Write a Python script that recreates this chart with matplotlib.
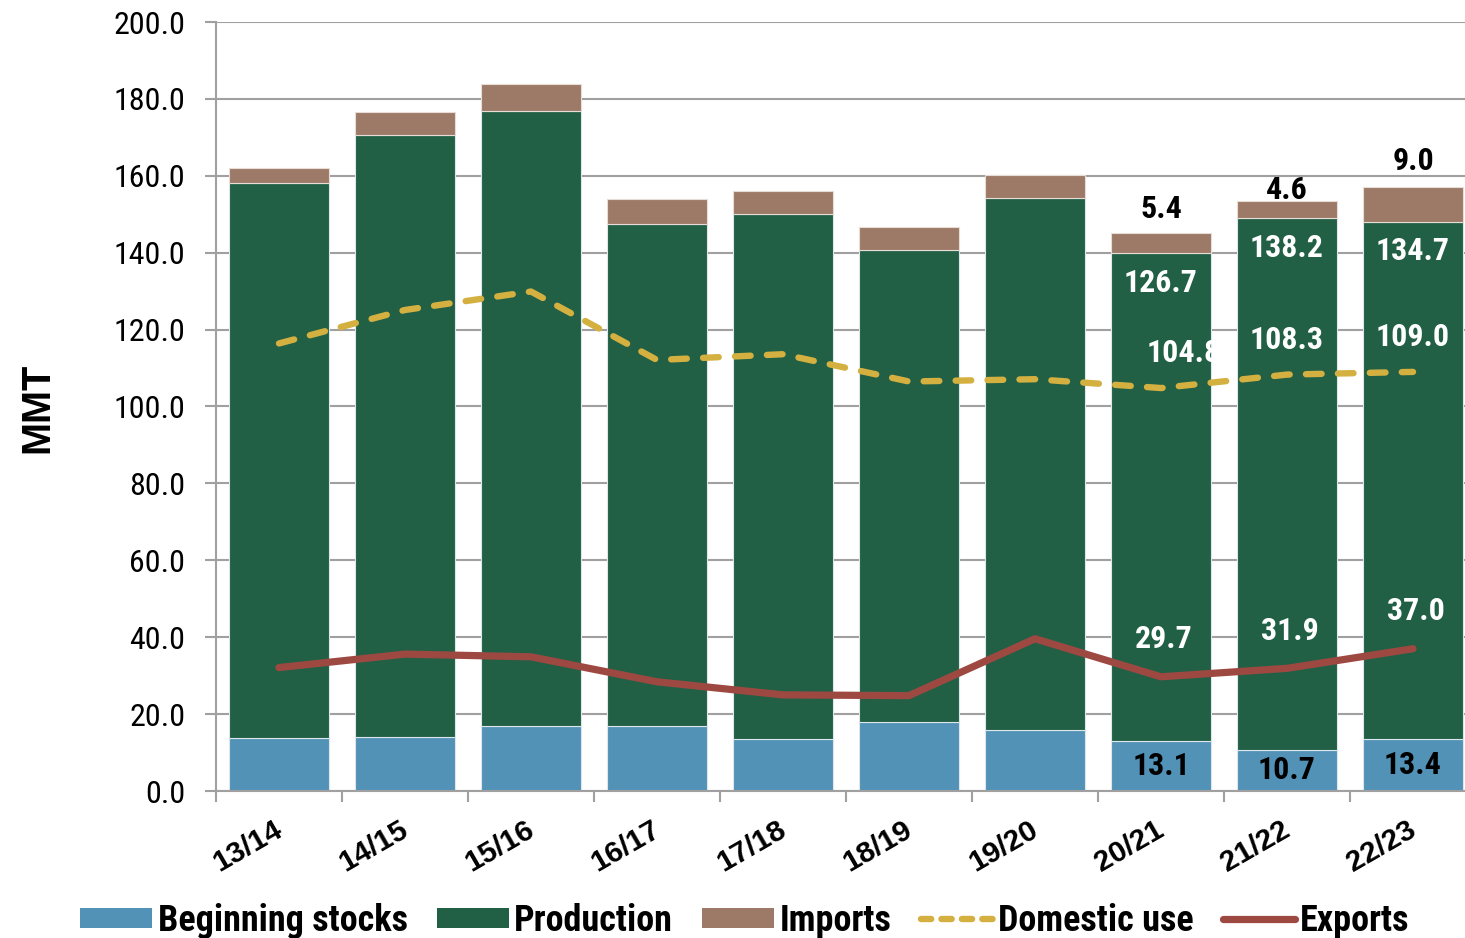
import matplotlib
matplotlib.use("Agg")
import matplotlib.pyplot as plt
from matplotlib import font_manager
from matplotlib.lines import Line2D
from matplotlib.patches import Patch
import numpy as np

years = ["13/14", "14/15", "15/16", "16/17", "17/18", "18/19", "19/20", "20/21", "21/22", "22/23"]
beginning_stocks = [13.9, 14.1, 16.8, 16.8, 13.6, 17.9, 15.9, 13.1, 10.7, 13.4]
production = [144.3, 156.6, 160.1, 130.7, 136.4, 122.9, 138.4, 126.7, 138.2, 134.7]
imports = [3.9, 6.0, 7.0, 6.4, 6.1, 5.8, 5.8, 5.4, 4.6, 9.0]
domestic_use = [116.4, 125.1, 129.9, 112.1, 113.6, 106.5, 107.1, 104.8, 108.3, 109.0]
exports = [32.1, 35.6, 34.9, 28.4, 25.0, 24.8, 39.6, 29.7, 31.9, 37.0]

labelled = [7, 8, 9]  # only last three seasons carry data labels
imp_lift = {7: 17, 8: 8, 9: 19}  # label offset above the bar, points
dom_shift = {7: 16, 8: 0, 9: 0}

c_stocks = "#5292B7"
c_prod = "#216045"
c_imp = "#9D7A67"
c_dom = "#D4B040"
c_exp = "#9E4842"
c_grid = "#A0A0A0"

installed = {f.name for f in font_manager.fontManager.ttflist}
narrow = "DejaVu Sans"
for name in ["Roboto Condensed", "Liberation Sans Narrow", "Arial Narrow", "Roboto"]:
    if name in installed:
        narrow = name
        break
legend_font = narrow
for name in ["Liberation Sans Narrow", "Arial Narrow", "Roboto Condensed"]:
    if name in installed:
        legend_font = name
        break
bold_sans = "Liberation Sans" if "Liberation Sans" in installed else "DejaVu Sans"

fig = plt.figure(figsize=(14.65, 9.38), dpi=100)
ax = fig.add_axes([216 / 1465, 147 / 938, 1260 / 1465, 769 / 938])

x = np.arange(len(years))
bs = np.array(beginning_stocks)
pr = np.array(production)
im = np.array(imports)

ax.bar(x, bs, width=0.8, color=c_stocks, edgecolor="#DDE6EA", linewidth=0.8, zorder=2)
ax.bar(x, pr, width=0.8, bottom=bs, color=c_prod, edgecolor="#DDE6EA", linewidth=0.8, zorder=2)
ax.bar(x, im, width=0.8, bottom=bs + pr, color=c_imp, edgecolor="#E8DCD6", linewidth=0.8, zorder=2)

ax.plot(x, domestic_use, color=c_dom, lw=4.6, linestyle=(0, (2.45, 2.55)),
        dash_capstyle="round", zorder=3)
ax.plot(x, exports, color=c_exp, lw=5.2, solid_capstyle="round",
        solid_joinstyle="round", zorder=3)

# data labels
lab_kw = dict(family=[narrow, "DejaVu Sans"], fontsize=23, fontweight="bold",
              ha="center", va="center", textcoords="offset points")
for i in labelled:
    ax.annotate(f"{bs[i]:.1f}", (x[i], bs[i] / 2), xytext=(0, 0), color="black", **lab_kw)
    ax.annotate(f"{pr[i]:.1f}", (x[i], bs[i] + pr[i]), xytext=(0, -21), color="white", **lab_kw)
    ax.annotate(f"{im[i]:.1f}", (x[i], bs[i] + pr[i] + im[i]), xytext=(0, imp_lift[i]),
                color="black", **lab_kw)
    ax.annotate(f"{domestic_use[i]:.1f}", (x[i], domestic_use[i]), xytext=(dom_shift[i], 25),
                color="white", zorder=4, **lab_kw)
    ax.annotate(f"{exports[i]:.1f}", (x[i], exports[i]), xytext=(2, 27),
                color="white", zorder=4, **lab_kw)

ax.set_xlim(-0.5, len(years) - 0.5)
ax.set_ylim(0, 200)
ax.set_yticks(np.arange(0, 201, 20))
ax.set_yticklabels([f"{v:.1f}" for v in np.arange(0, 201, 20)], family=[narrow, "DejaVu Sans"], fontsize=23)
ax.yaxis.grid(True, color=c_grid, lw=1.5, zorder=0)
ax.set_axisbelow(True)

# category labels sit a touch left of the bar centres
ax.set_xticks(x - 0.05)
ax.set_xticklabels(years, rotation=30, ha="right", va="top", rotation_mode="anchor",
                   family=[bold_sans, "DejaVu Sans"], fontsize=21.5, fontweight="bold")
ax.set_xticks(np.arange(-0.5, len(years), 1), minor=True)
ax.tick_params(axis="x", which="major", length=0, pad=18)
ax.tick_params(axis="x", which="minor", length=8, width=1.5, color=c_grid)
ax.tick_params(axis="y", length=8, width=1.5, color=c_grid, pad=14)

for s in ["top", "right"]:
    ax.spines[s].set_visible(False)
for s in ["left", "bottom"]:
    ax.spines[s].set_color(c_grid)
    ax.spines[s].set_linewidth(1.5)

fig.text(37 / 1465, 1 - 408 / 938, "MMT", rotation=90, ha="center", va="center",
         family=[bold_sans, "DejaVu Sans"], fontsize=28.5, fontweight="bold")

handles = [
    Patch(facecolor=c_stocks, label="Beginning stocks"),
    Patch(facecolor=c_prod, label="Production"),
    Patch(facecolor=c_imp, label="Imports"),
    Line2D([0], [0], color=c_dom, lw=4.6, linestyle=(0, (1.6, 1.6)), dash_capstyle="round", label="Domestic use"),
    Line2D([0], [0], color=c_exp, lw=5.2, solid_capstyle="round", label="Exports"),
]
fig.legend(handles=handles, loc="center", bbox_to_anchor=(745 / 1465, 1 - 921 / 938), ncol=5,
           frameon=False, handlelength=2.0, handleheight=0.5, handletextpad=0.15,
           columnspacing=0.8, prop={"family": [legend_font, "DejaVu Sans"], "weight": "bold", "size": 26})

fig.savefig("out.png", dpi=100)
